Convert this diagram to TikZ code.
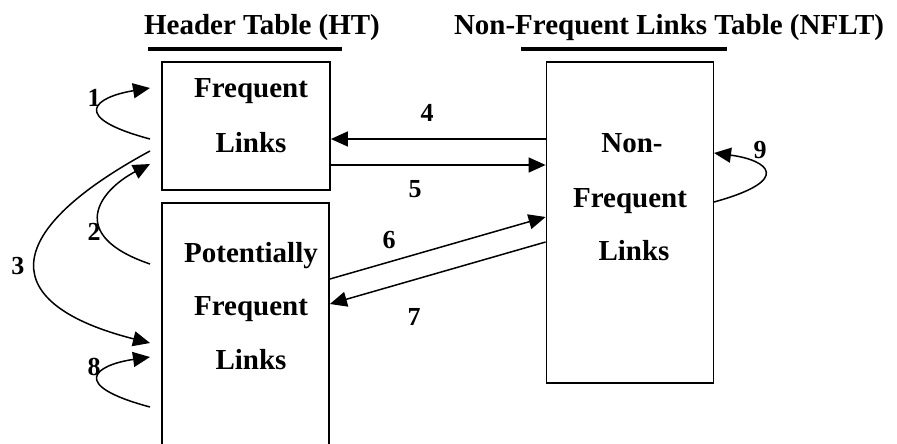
\documentclass[tikz,border=0pt]{standalone}
\usepackage{fontspec}
\setmainfont{Liberation Serif}
\usetikzlibrary{arrows.meta}
\tikzset{
  box/.style={draw, line width=1.8pt, rectangle, inner sep=0pt},
  lbl/.style={anchor=base, inner sep=0pt, font=\fontsize{29}{34}\selectfont\bfseries},
  ttl/.style={anchor=base, inner sep=0pt, font=\fontsize{29}{34}\selectfont\bfseries},
  num/.style={inner sep=0pt, font=\fontsize{26}{28}\selectfont\bfseries},
  conn/.style={line width=1.5pt, -{Triangle[length=17pt,width=15pt]}},
  uline/.style={line width=4pt}
}
\begin{document}
\begin{tikzpicture}[x=1pt,y=-1pt]
\useasboundingbox (0,0) rectangle (897,444);
\clip (0,0) rectangle (897,444);
% titles
\node[ttl] (t1) at (262,35) {Header Table (HT)};
\node[ttl] (t2) at (669,35) {Non-Frequent Links Table (NFLT)};
\coordinate (u1a) at (148,49); \coordinate (u1b) at (342,49);
\coordinate (u2a) at (521,49); \coordinate (u2b) at (727,49);
\draw[uline] (u1a) -- (u1b);
\draw[uline] (u2a) -- (u2b);
% boxes
\node[box, minimum width=168pt, minimum height=128pt] (fl) at (246,126) {};
\node[box, minimum width=167pt, minimum height=260pt] (pf) at (245.5,333) {};
\node[box, minimum width=167pt, minimum height=321pt] (nf) at (630,222.5) {};
% box texts
\node[lbl] (fl1) at (251,97) {Frequent};
\node[lbl] (fl2) at (251,152) {Links};
\node[lbl] (pf1) at (251,262) {Potentially};
\node[lbl] (pf2) at (251,315) {Frequent};
\node[lbl] (pf3) at (251,369) {Links};
\node[lbl] (nf1) at (632,152) {Non-};
\node[lbl] (nf2) at (630,207) {Frequent};
\node[lbl] (nf3) at (634,260) {Links};
% straight connectors
\draw[conn] (nf.west |- 0,139) -- (fl.east |- 0,139);
\draw[conn] (fl.east |- 0,165) -- (nf.west |- 0,165);
\draw[conn] (pf.east |- 0,279) -- (nf.west |- 0,217);
\draw[conn] (nf.west |- 0,242) -- (pf.east |- 0,304);
% loops
\coordinate (a1s) at (150,139); \coordinate (a1e) at (150,88);
\coordinate (a2s) at (150,264); \coordinate (a2e) at (150,164);
\coordinate (a3s) at (150,151); \coordinate (a3e) at (150,343);
\coordinate (a8s) at (150,407); \coordinate (a8e) at (150,357);
\coordinate (a9s) at (714,202); \coordinate (a9e) at (714,153);
\draw[conn] (a1s) .. controls (68,117) and (95,97) .. (a1e);
\draw[conn] (a2s) .. controls (65,235) and (100,190) .. (a2e);
\draw[conn] (a3s) .. controls (-5,235) and (0,305) .. (a3e);
\draw[conn] (a8s) .. controls (68,385) and (95,365) .. (a8e);
\draw[conn] (a9s) .. controls (794,180) and (768,160) .. (a9e);
% numbers
\node[num] (n1) at (94,98) {1};
\node[num] (n2) at (94,232) {2};
\node[num] (n3) at (18,266) {3};
\node[num] (n4) at (427,113) {4};
\node[num] (n5) at (415,189) {5};
\node[num] (n6) at (389,240) {6};
\node[num] (n7) at (414,317) {7};
\node[num] (n8) at (94,367) {8};
\node[num] (n9) at (760,150) {9};
\end{tikzpicture}
\end{document}
